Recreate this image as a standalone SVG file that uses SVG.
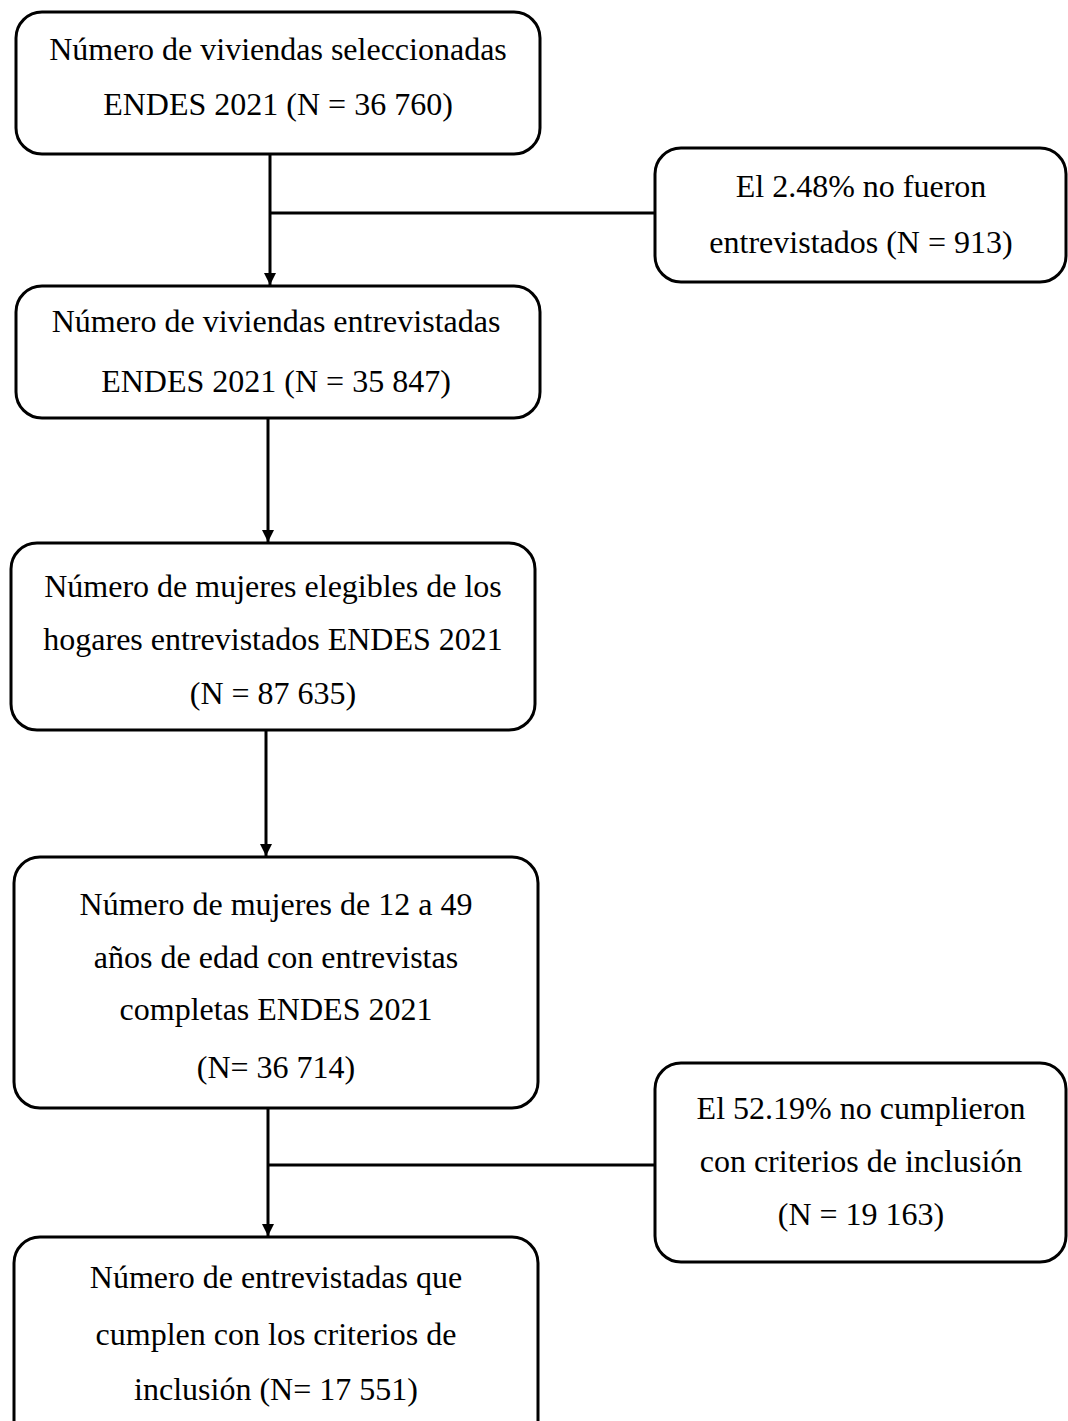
<svg xmlns="http://www.w3.org/2000/svg" width="1068" height="1421" viewBox="0 0 1068 1421">
<style>
.box{fill:#fff;stroke:#000;stroke-width:3}
.t{font-family:"Liberation Serif","Times New Roman",serif;font-size:32px;fill:#000;text-anchor:middle}
.c{fill:none;stroke:#000;stroke-width:3}
</style>
<defs>
<marker id="arr" markerUnits="userSpaceOnUse" markerWidth="14" markerHeight="14" refX="12" refY="7" orient="auto" viewBox="0 0 14 14">
<path d="M0,1 L12,7 L0,13 Z" fill="#000"/>
</marker>
</defs>
<rect width="1068" height="1421" fill="#fff"/>
<g id="connectors">
<line class="c" x1="270" y1="154" x2="270" y2="285" marker-end="url(#arr)"/>
<line class="c" x1="270" y1="213" x2="655" y2="213"/>
<line class="c" x1="268" y1="418" x2="268" y2="542" marker-end="url(#arr)"/>
<line class="c" x1="266" y1="730" x2="266" y2="856" marker-end="url(#arr)"/>
<line class="c" x1="268" y1="1108" x2="268" y2="1236" marker-end="url(#arr)"/>
<line class="c" x1="268" y1="1165" x2="655" y2="1165"/>
</g>
<g id="n1">
<rect class="box" x="16" y="12" width="524" height="142" rx="26"/>
<text class="t" x="278" y="60">Número de viviendas seleccionadas</text>
<text class="t" x="278" y="115">ENDES 2021 (N = 36 760)</text>
</g>
<g id="s1">
<rect class="box" x="655" y="148" width="411" height="134" rx="26"/>
<text class="t" x="861" y="197">El 2.48% no fueron</text>
<text class="t" x="861" y="253">entrevistados (N = 913)</text>
</g>
<g id="n2">
<rect class="box" x="16" y="286" width="524" height="132" rx="26"/>
<text class="t" x="276" y="332">Número de viviendas entrevistadas</text>
<text class="t" x="276" y="392">ENDES 2021 (N = 35 847)</text>
</g>
<g id="n3">
<rect class="box" x="11" y="543" width="524" height="187" rx="26"/>
<text class="t" x="273" y="597">Número de mujeres elegibles de los</text>
<text class="t" x="273" y="650">hogares entrevistados ENDES 2021</text>
<text class="t" x="273" y="704">(N = 87 635)</text>
</g>
<g id="n4">
<rect class="box" x="14" y="857" width="524" height="251" rx="26"/>
<text class="t" x="276" y="915">Número de mujeres de 12 a 49</text>
<text class="t" x="276" y="968">años de edad con entrevistas</text>
<text class="t" x="276" y="1020">completas ENDES 2021</text>
<text class="t" x="276" y="1078">(N= 36 714)</text>
</g>
<g id="s2">
<rect class="box" x="655" y="1063" width="411" height="199" rx="26"/>
<text class="t" x="861" y="1119">El 52.19% no cumplieron</text>
<text class="t" x="861" y="1172">con criterios de inclusión</text>
<text class="t" x="861" y="1225">(N = 19 163)</text>
</g>
<g id="n5">
<rect class="box" x="14" y="1237" width="524" height="210" rx="26"/>
<text class="t" x="276" y="1288">Número de entrevistadas que</text>
<text class="t" x="276" y="1345">cumplen con los criterios de</text>
<text class="t" x="276" y="1400">inclusión (N= 17 551)</text>
</g>
</svg>
